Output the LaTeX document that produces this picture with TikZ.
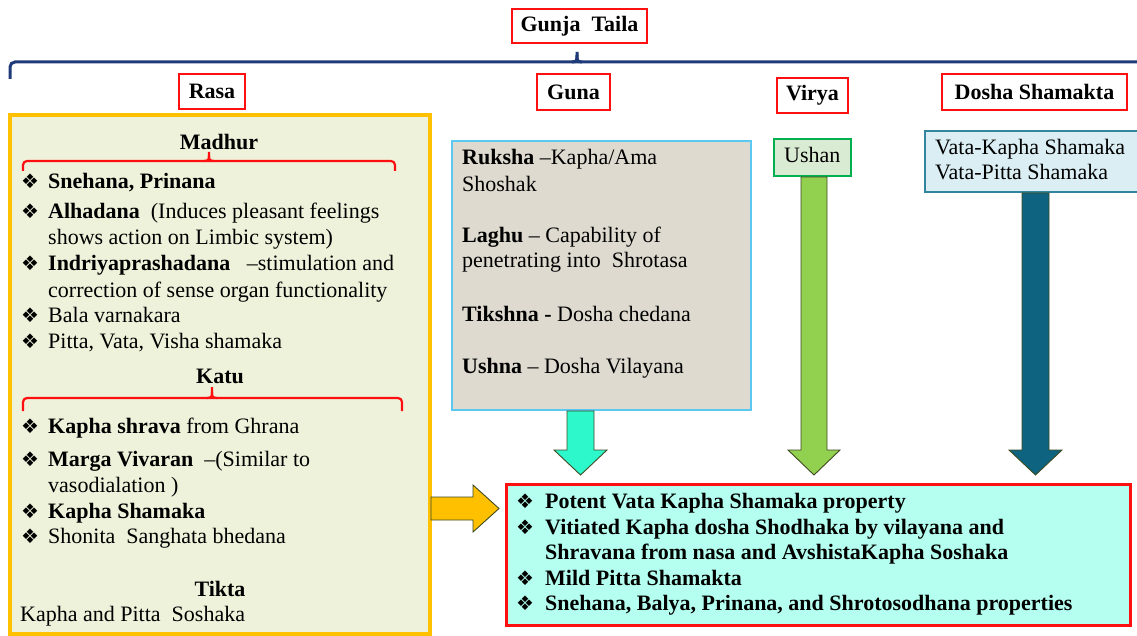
\documentclass[tikz,border=0pt]{standalone}
\usepackage{fontspec}
\setmainfont{Liberation Serif}
\newfontfamily\symfont{DejaVu Sans}
\definecolor{navy}{HTML}{1F3A78}
\definecolor{ored}{HTML}{FF1010}
\definecolor{gold}{HTML}{FFC000}
\definecolor{cream}{HTML}{EFF2DA}
\definecolor{skyb}{HTML}{5BC8F2}
\definecolor{taupe}{HTML}{DEDAD0}
\definecolor{aqua}{HTML}{2CF8CC}
\definecolor{gborder}{HTML}{00B050}
\definecolor{gfill}{HTML}{DAEBD4}
\definecolor{lgreen}{HTML}{92D050}
\definecolor{tealb}{HTML}{31859C}
\definecolor{tealf}{HTML}{DAEEF3}
\definecolor{tealdark}{HTML}{0E6480}
\definecolor{resfill}{HTML}{B4FFEF}
\definecolor{outl}{HTML}{3E4A22}
\newcommand\bul{{\symfont\fontsize{20}{20}\selectfont ❖}}
\tikzset{
  txt/.style={anchor=base west, inner sep=0pt, font=\fontsize{22}{26}\selectfont},
  ctxt/.style={anchor=base, inner sep=0pt, font=\fontsize{22}{26}\selectfont\bfseries},
  lbl/.style={draw=ored, line width=1.8pt, fill=white, inner sep=0pt, font=\fontsize{22}{26}\selectfont\bfseries},
  panel/.style={inner sep=0pt},
  blockarrow/.style={draw=outl, line width=0.9pt, line join=miter},
  redbrace/.style={draw=ored, line width=2.2pt},
  navybrace/.style={draw=navy, line width=3pt},
}
\begin{document}
\begin{tikzpicture}[x=1pt,y=-1pt]
\useasboundingbox (0,0) rectangle (1137,636);
% title and top brace
\node[lbl, minimum width=135pt, minimum height=34pt] (gunja) at (579.5,26) {Gunja\ \ Taila};
\draw[navybrace, rounded corners=5pt] (10,79) -- (10,62) -- (1150,62) -- (1150,79);
\draw[navybrace] (572,62) .. controls (577,62) and (577,60) .. (577,55) -- (577,52);
\draw[navybrace] (582,62) .. controls (577,62) and (577,60) .. (577,55);
% category labels
\node[lbl, minimum width=66pt, minimum height=35pt] (rasa) at (212,91.5) {Rasa};
\node[lbl, minimum width=73pt, minimum height=36pt] (guna) at (573.5,92) {Guna};
\node[lbl, minimum width=71pt, minimum height=35pt] (virya) at (812.5,95.5) {Virya};
\node[lbl, minimum width=185pt, minimum height=36pt] (dosha) at (1034.5,92) {Dosha Shamakta};

% Rasa panel
\node[panel, draw=gold, fill=cream, line width=4pt, minimum width=420pt, minimum height=519pt] (rasabox) at (220,374.5) {};
\node[ctxt] (madhur) at (219,150) {Madhur};
\draw[redbrace, rounded corners=4pt] (23,171) -- (23,161) -- (395,161) -- (395,171);
\draw[redbrace] (204,161) .. controls (209,161) and (209,159) .. (209,155) -- (209,152);
\draw[redbrace] (214,161) .. controls (209,161) and (209,159) .. (209,155);
\node[txt] (b1) at (21,189) {\bul};
\node[txt] (m1) at (48,189) {\textbf{Snehana, Prinana}};
\node[txt] (b2) at (21,219) {\bul};
\node[txt] (m2) at (48,219) {\textbf{Alhadana}\ \ (Induces pleasant feelings};
\node[txt] (m2b) at (48,245) {shows action on Limbic system)};
\node[txt] (b3) at (21,271) {\bul};
\node[txt] (m3) at (48,271) {\textbf{Indriyaprashadana}\ \ \ –stimulation and};
\node[txt] (m3b) at (48,297) {correction of sense organ functionality};
\node[txt] (b4) at (21,322) {\bul};
\node[txt] (m4) at (48,322) {Bala varnakara};
\node[txt] (b5) at (21,348) {\bul};
\node[txt] (m5) at (48,348) {Pitta, Vata, Visha\ shamaka};
\node[ctxt] (katu) at (220,383) {Katu};
\draw[redbrace, rounded corners=4pt] (23,411) -- (23,398) -- (402,398) -- (402,411);
\draw[redbrace] (207,398) .. controls (212,398) and (212,396) .. (212,392) -- (212,387);
\draw[redbrace] (217,398) .. controls (212,398) and (212,396) .. (212,392);
\node[txt] (k1b) at (21,433) {\bul};
\node[txt] (k1) at (48,433) {\textbf{Kapha shrava} from Ghrana};
\node[txt] (k2b) at (21,466) {\bul};
\node[txt] (k2) at (48,466) {\textbf{Marga Vivaran}\ \ –(Similar to};
\node[txt] (k2c) at (48,492) {vasodialation )};
\node[txt] (k3b) at (21,518) {\bul};
\node[txt] (k3) at (48,518) {\textbf{Kapha Shamaka}};
\node[txt] (k4b) at (21,543) {\bul};
\node[txt] (k4) at (48,543) {Shonita\ \ Sanghata bhedana};
\node[ctxt] (tikta) at (220,596) {Tikta};
\node[txt] (t1) at (20,621) {Kapha and Pitta\ \ Soshaka};

% Guna panel
\node[panel, draw=skyb, fill=taupe, line width=2.5pt, minimum width=299pt, minimum height=269pt] (gunabox) at (601.5,275.5) {};
\node[txt] (g1) at (462,165) {\textbf{Ruksha} –Kapha/Ama};
\node[txt] (g1b) at (462,192) {Shoshak};
\node[txt] (g2) at (462,243) {\textbf{Laghu}\ – Capability of};
\node[txt] (g2b) at (462,268) {penetrating into\ \ Shrotasa};
\node[txt] (g3) at (462,321) {\textbf{Tikshna -} Dosha\ chedana};
\node[txt] (g4) at (462,373) {\textbf{Ushna} – Dosha Vilayana};

% Virya panel
\node[panel, draw=gborder, fill=gfill, line width=2.2pt, minimum width=77pt, minimum height=37pt] (ushanbox) at (812.5,157.5) {};
\node[txt] (ushan) at (784,163) {Ushan};

% Dosha panel
\node[panel, draw=tealb, fill=tealf, line width=2.2pt, minimum width=216pt, minimum height=61pt] (doshabox) at (1033,161.5) {};
\node[txt] (d1) at (935,155) {Vata-Kapha Shamaka};
\node[txt] (d2) at (935,180) {Vata-Pitta Shamaka};

% block arrows
\draw[blockarrow, fill=aqua] (567,411) -- (594,411) -- (594,450) -- (607,450) -- (580.5,475) -- (554,450) -- (567,450) -- cycle;
\draw[blockarrow, fill=lgreen] (801,177) -- (827,177) -- (827,450) -- (840,450) -- (814,475) -- (788,450) -- (801,450) -- cycle;
\draw[blockarrow, fill=tealdark] (1022,193) -- (1049,193) -- (1049,450) -- (1062,450) -- (1035.5,475) -- (1009,450) -- (1022,450) -- cycle;
\draw[blockarrow, fill=gold] (431,497) -- (473,497) -- (473,485) -- (499,508.5) -- (473,532) -- (473,520) -- (431,520) -- cycle;

% result panel
\node[panel, draw=ored, fill=resfill, line width=3pt, minimum width=624pt, minimum height=141pt] (result) at (818,554.5) {};
\node[txt] (r1b) at (516,508) {\bul};
\node[txt] (r1) at (545,508) {\textbf{Potent Vata Kapha Shamaka property}};
\node[txt] (r2b) at (516,534) {\bul};
\node[txt] (r2) at (545,534) {\textbf{Vitiated Kapha dosha Shodhaka by vilayana and}};
\node[txt] (r2c) at (545,559) {\textbf{Shravana\ from nasa and AvshistaKapha Soshaka}};
\node[txt] (r3b) at (516,585) {\bul};
\node[txt] (r3) at (545,585) {\textbf{Mild Pitta Shamakta}};
\node[txt] (r4b) at (516,610) {\bul};
\node[txt] (r4) at (545,610) {\textbf{Snehana, Balya, Prinana, and Shrotosodhana properties}};
\end{tikzpicture}
\end{document}
